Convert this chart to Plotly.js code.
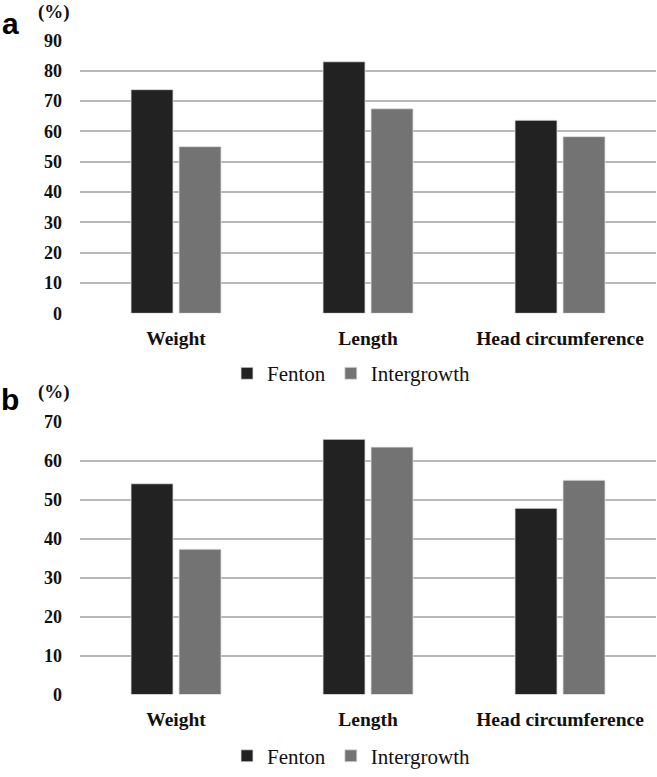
<!DOCTYPE html>
<html>
<head>
<meta charset="utf-8">
<script src="https://cdn.plot.ly/plotly-3.0.1.min.js"></script>
<style>
  html, body { margin: 0; padding: 0; background: #fff; }
  #chart { width: 657px; height: 777px; }
</style>
</head>
<body>
<div id="chart"></div>
<script>
// categories and series values (%)
var categories = ["Weight", "Length", "Head circumference"];
var fentonA = [73.8, 83.0, 63.7];
var intergrowthA = [55.0, 67.5, 58.3];
var fentonB = [54.1, 65.5, 47.8];
var intergrowthB = [37.3, 63.5, 55.0];
var ticksA = [0, 10, 20, 30, 40, 50, 60, 70, 80, 90];
var ticksB = [0, 10, 20, 30, 40, 50, 60, 70];

var serif = "Liberation Serif";
var darkCol = "#222222";
var greyCol = "#737373";

function barTrace(name, vals, color, xa, ya, lg) {
    return {
        type: "bar",
        name: name,
        x: categories,
        y: vals,
        xaxis: xa,
        yaxis: ya,
        legend: lg,
        marker: { color: color, line: { color: "#e0e0e0", width: 0.8 } },
        hoverinfo: "skip"
    };
}

var traces = [
    barTrace("Fenton", fentonA, darkCol, "x", "y", "legend"),
    barTrace("Intergrowth", intergrowthA, greyCol, "x", "y", "legend"),
    barTrace("Fenton", fentonB, darkCol, "x2", "y2", "legend2"),
    barTrace("Intergrowth", intergrowthB, greyCol, "x2", "y2", "legend2")
];

function xAxis(anchor) {
    return {
        domain: [0.1218, 0.9985],
        anchor: anchor,
        showgrid: false,
        zeroline: false,
        showline: false,
        ticks: "",
        ticklabelstandoff: 11,
        tickfont: { family: serif, size: 19.5, color: "#111", weight: "bold" },
        fixedrange: true
    };
}

function yAxis(anchor, dom, top, tickvals) {
    return {
        domain: dom,
        anchor: anchor,
        range: [0, top],
        tickvals: tickvals,
        showgrid: true,
        gridcolor: "#b8b8b8",
        gridwidth: 2,
        zeroline: false,
        showline: false,
        ticks: "",
        ticklabelstandoff: 17,
        tickfont: { family: serif, size: 18, color: "#111", weight: "bold" },
        fixedrange: true
    };
}

function legendBox(y) {
    return {
        orientation: "h",
        x: 227 / 657,
        xanchor: "left",
        y: y,
        yanchor: "middle",
        font: { family: serif, size: 21, color: "#111" },
        itemwidth: 30,
        bgcolor: "rgba(0,0,0,0)"
    };
}

var labelFont = { family: "Liberation Sans", size: 30, color: "#000", weight: "bold" };
var pctFont = { family: serif, size: 19, color: "#111", weight: "bold" };

function note(text, px, py, font) {
    return { text: text, x: px / 657, y: 1 - py / 777, xref: "paper", yref: "paper",
             xanchor: "center", yanchor: "middle", showarrow: false, font: font };
}

var layout = {
    width: 657,
    height: 777,
    margin: { l: 0, r: 0, t: 0, b: 0 },
    paper_bgcolor: "#fff",
    plot_bgcolor: "#fff",
    barmode: "group",
    bargap: 0.5,
    bargroupgap: 0.125,
    showlegend: true,
    xaxis: xAxis("y"),
    yaxis: yAxis("x", [0.5920, 0.9472], 90, ticksA),
    xaxis2: xAxis("y2"),
    yaxis2: yAxis("x2", [0.0956, 0.4508], 70, ticksB),
    legend: legendBox(1 - 378 / 777),
    legend2: legendBox(1 - 765 / 777),
    annotations: [
        note("a", 10, 24, labelFont),
        note("b", 10, 404, labelFont),
        note("(%)", 54, 12, pctFont),
        note("(%)", 54, 397, pctFont)
    ]
};

Plotly.newPlot("chart", traces, layout, { displayModeBar: false, staticPlot: true });
</script>
</body>
</html>
